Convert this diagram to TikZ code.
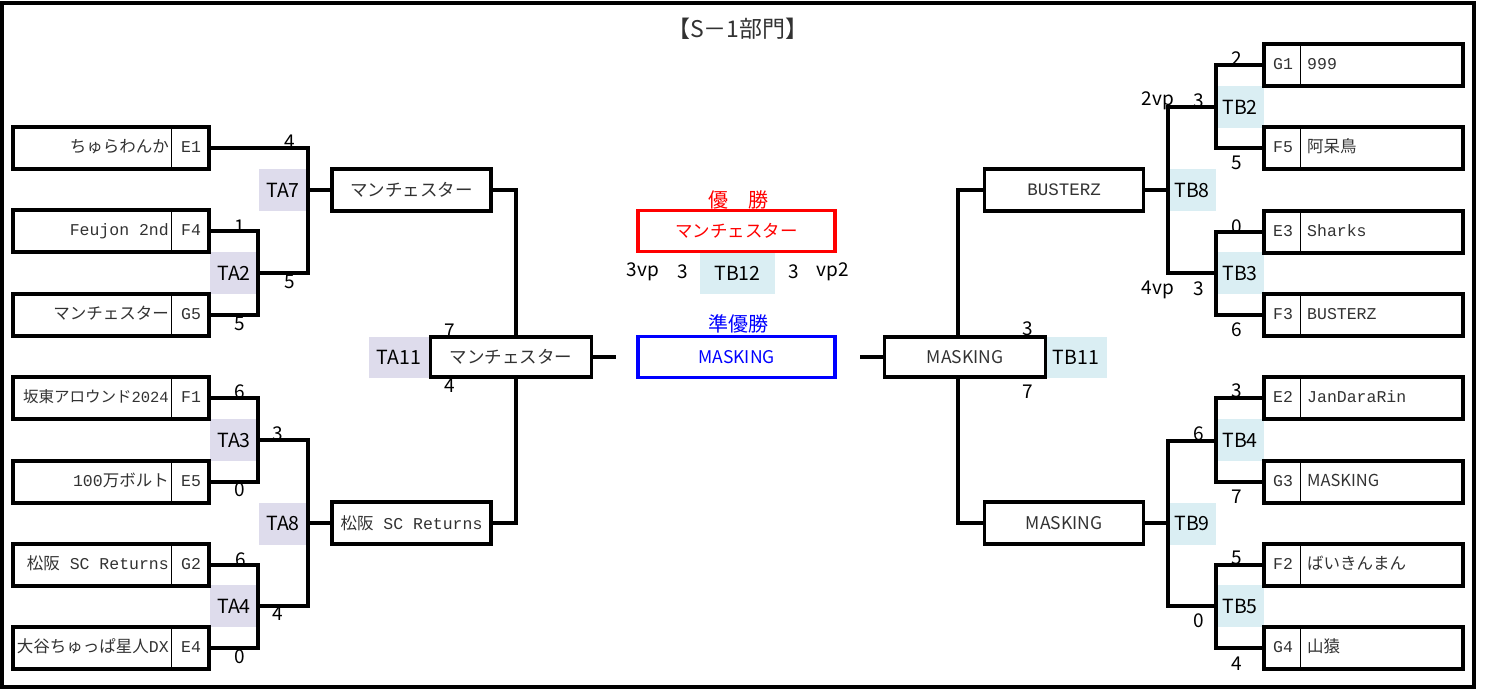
\documentclass[tikz,border=0pt]{standalone}
\usepackage{fontspec}
\setmainfont{Noto Sans CJK JP}
\newfontfamily\mono{Liberation Mono}

\definecolor{tashade}{RGB}{222,220,236}
\definecolor{tbshade}{RGB}{218,238,243}
\definecolor{boxtext}{RGB}{50,50,50}

\tikzset{
  link/.style={line width=3.2pt},
  outerframe/.style={line width=3.2pt},
  entry/.style={draw, line width=3.2pt, inner sep=0pt, text=boxtext, font=\fontsize{17.5}{19}\selectfont},
  teambox/.style={entry, minimum width=196pt, minimum height=42pt},
  rteambox/.style={entry, minimum width=199pt, minimum height=42pt},
  roundbox/.style={entry, minimum width=159pt, minimum height=42pt},
  semibox/.style={entry, minimum width=161pt, minimum height=40pt},
  finalbox/.style={entry, minimum width=197pt, minimum height=41pt},
  divider/.style={line width=0.8pt},
  teamtext/.style={inner sep=0pt, text=boxtext, text height=12.5pt, text depth=3.5pt, font=\fontsize{16.5}{18}\selectfont},
  cell/.style={inner sep=0pt, minimum width=48pt, minimum height=42pt, font=\fontsize{19.5}{20}\selectfont},
  tacell/.style={cell, fill=tashade},
  tbcell/.style={cell, fill=tbshade},
  score/.style={inner sep=0pt, font=\fontsize{19}{20}\selectfont},
  heading/.style={inner sep=0pt, font=\fontsize{20}{22}\selectfont},
}

\begin{document}
\begin{tikzpicture}[x=1pt, y=-1pt]
  \useasboundingbox (0,0) rectangle (1485,690);
  \draw[outerframe] (2,3) rectangle (1474,687);

  % title
  \node[heading, font=\fontsize{23}{25}\selectfont, text=boxtext] (title) at (738,29) {【S－1部門】};

  % shaded match cells
  \node[tacell] (ta7) at (283,190) {TA7};
  \node[tacell] (ta2) at (234,273) {TA2};
  \node[tacell] (ta3) at (234,440) {TA3};
  \node[tacell] (ta4) at (234,606) {TA4};
  \node[tacell] (ta8) at (283,523.5) {TA8};
  \node[tacell, minimum width=60pt, minimum height=41pt] (ta11) at (399,357.5) {TA11};
  \node[tbcell, minimum width=75pt, minimum height=41pt] (tb12) at (737.5,273.5) {TB12};
  \node[tbcell, minimum width=62pt, minimum height=41pt] (tb11) at (1076,357.5) {TB11};
  \node[tbcell] (tb2) at (1240,107.5) {TB2};
  \node[tbcell] (tb3) at (1240,273) {TB3};
  \node[tbcell] (tb4) at (1240,440) {TB4};
  \node[tbcell] (tb5) at (1240,606) {TB5};
  \node[tbcell] (tb8) at (1192,190) {TB8};
  \node[tbcell] (tb9) at (1192,523.5) {TB9};

  % left teams
  \foreach \n/\y/\t/\c in {e1/148/ちゅらわんか/E1, f4/231/{\mono Feujon 2nd}/F4,
      g5/315/マンチェスター/G5, f1/398/{\fontsize{15.5}{17}\selectfont 坂東アロウンド{\mono 2024}}/F1,
      e5/482/{{\mono 100}万ボルト}/E5, g2/565/{松阪{\mono\ SC Returns}}/G2,
      e4/648/{大谷ちゅっぱ星人{\mono DX}}/E4}{
    \node[teambox] (\n) at (111,\y) {};
    \draw[divider] ([xshift=160pt]\n.north west) -- ([xshift=160pt]\n.south west);
    \node[teamtext, anchor=east] (\n-name) at (169,\y) {\t};
    \node[teamtext] (\n-code) at (191,\y) {\mono\c};
  }

  % right teams
  \foreach \n/\y/\t/\c in {g1/65/{\mono 999}/G1, f5/148/阿呆鳥/F5,
      e3/232/{\mono Sharks}/E3, f3/315/{\mono BUSTERZ}/F3,
      e2/398/{\mono JanDaraRin}/E2, g3/482/MASKING/G3,
      f2/565/ばいきんまん/F2, g4/648/山猿/G4}{
    \node[rteambox] (\n) at (1363.5,\y) {};
    \draw[divider] ([xshift=38pt]\n.north west) -- ([xshift=38pt]\n.south west);
    \node[teamtext, anchor=west] (\n-name) at (1307,\y) {\t};
    \node[teamtext] (\n-code) at (1283,\y) {\mono\c};
  }

  % later rounds
  \node[roundbox] (ta7w) at (411.5,190) {マンチェスター};
  \node[roundbox, font=\fontsize{16.5}{18}\selectfont] (ta8w) at (411.5,523) {松阪{\mono\ SC Returns}};
  \node[roundbox] (tb8w) at (1064,190) {\mono BUSTERZ};
  \node[roundbox] (tb9w) at (1064,523) {MASKING};
  \node[semibox] (ta11w) at (511,357) {マンチェスター};
  \node[semibox] (tb11w) at (965,357) {MASKING};
  \node[finalbox, draw=red, text=red] (champ) at (736.5,231) {マンチェスター};
  \node[finalbox, draw=blue, text=blue] (runner) at (736.5,357) {MASKING};
  \node[heading, text=red] (champ-lbl) at (738,200) {優　勝};
  \node[heading, text=blue] (runner-lbl) at (738,324) {準優勝};

  % junctions
  \coordinate (ta2j) at (258,273);
  \coordinate (ta3j) at (258,440);
  \coordinate (ta4j) at (258,606);
  \coordinate (ta7j) at (308,190);
  \coordinate (ta8j) at (308,523);
  \coordinate (jl) at (516,357);
  \coordinate (lend) at (616,357);
  \coordinate (rend) at (860,357);
  \coordinate (jr) at (958,357);
  \coordinate (tb2j) at (1216,107);
  \coordinate (tb3j) at (1216,273);
  \coordinate (tb4j) at (1216,441);
  \coordinate (tb5j) at (1216,606);
  \coordinate (tb8j) at (1168,190);
  \coordinate (tb9j) at (1168,523);

  % left brackets
  \draw[link] (f4.east) -| (ta2j) |- (g5.east);
  \draw[link] (f1.east) -| (ta3j) |- (e5.east);
  \draw[link] (g2.east) -| (ta4j) |- (e4.east);
  \draw[link] (e1.east) -| (ta7j) |- (ta2j);
  \draw[link] (ta3j) -| (ta8j) |- (ta4j);
  \draw[link] (ta7j) -- (ta7w.west);
  \draw[link] (ta8j) -- (ta8w.west);
  \draw[link] (ta7w.east) -| (jl |- ta11w.north);
  \draw[link] (ta8w.east) -| (jl |- ta11w.south);
  \draw[link] (ta11w.east) -- (lend);

  % right brackets
  \draw[link] (g1.west) -| (tb2j) |- (f5.west);
  \draw[link] (e3.west) -| (tb3j) |- (f3.west);
  \draw[link] (e2.west) -| (tb4j) |- (g3.west);
  \draw[link] (f2.west) -| (tb5j) |- (g4.west);
  \draw[link] (tb2j) -| (tb8j) |- (tb3j);
  \draw[link] (tb4j) -| (tb9j) |- (tb5j);
  \draw[link] (tb8j) -- (tb8w.east);
  \draw[link] (tb9j) -- (tb9w.east);
  \draw[link] (tb8w.west) -| (jr |- tb11w.north);
  \draw[link] (tb9w.west) -| (jr |- tb11w.south);
  \draw[link] (rend) -- (tb11w.west);

  % scores
  \foreach \n/\x/\y/\s in {sa1/290/142/4, sa2/240/227/1, sa3/290/282/5, sa4/240/324/5,
      sa5/450/331/7, sa6/450/386/4, sa7/240/392/6, sa8/278/434/3, sa9/240/490/0,
      sa10/241/560/6, sa11/278/614/4, sa12/240/657/0,
      sb1/1237/59/2, sb2/1158/101/2vp, sb3/1199/101/3, sb4/1237/163/5,
      sb5/1237/227/0, sb6/1158/290/4vp, sb7/1199/289/3, sb8/1237/330/6,
      sb9/1028/329/3, sb10/1028/392/7, sb11/1237/391/3, sb12/1199/434/6,
      sb13/1237/497/7, sb14/1237/558/5, sb15/1199/621/0, sb16/1237/664/4,
      sf1/643/272/3vp, sf2/683/272/3, sf3/794/272/3, sf4/833/272/vp2}{
    \node[score] (\n) at (\x,\y) {\s};
  }
\end{tikzpicture}
\end{document}
